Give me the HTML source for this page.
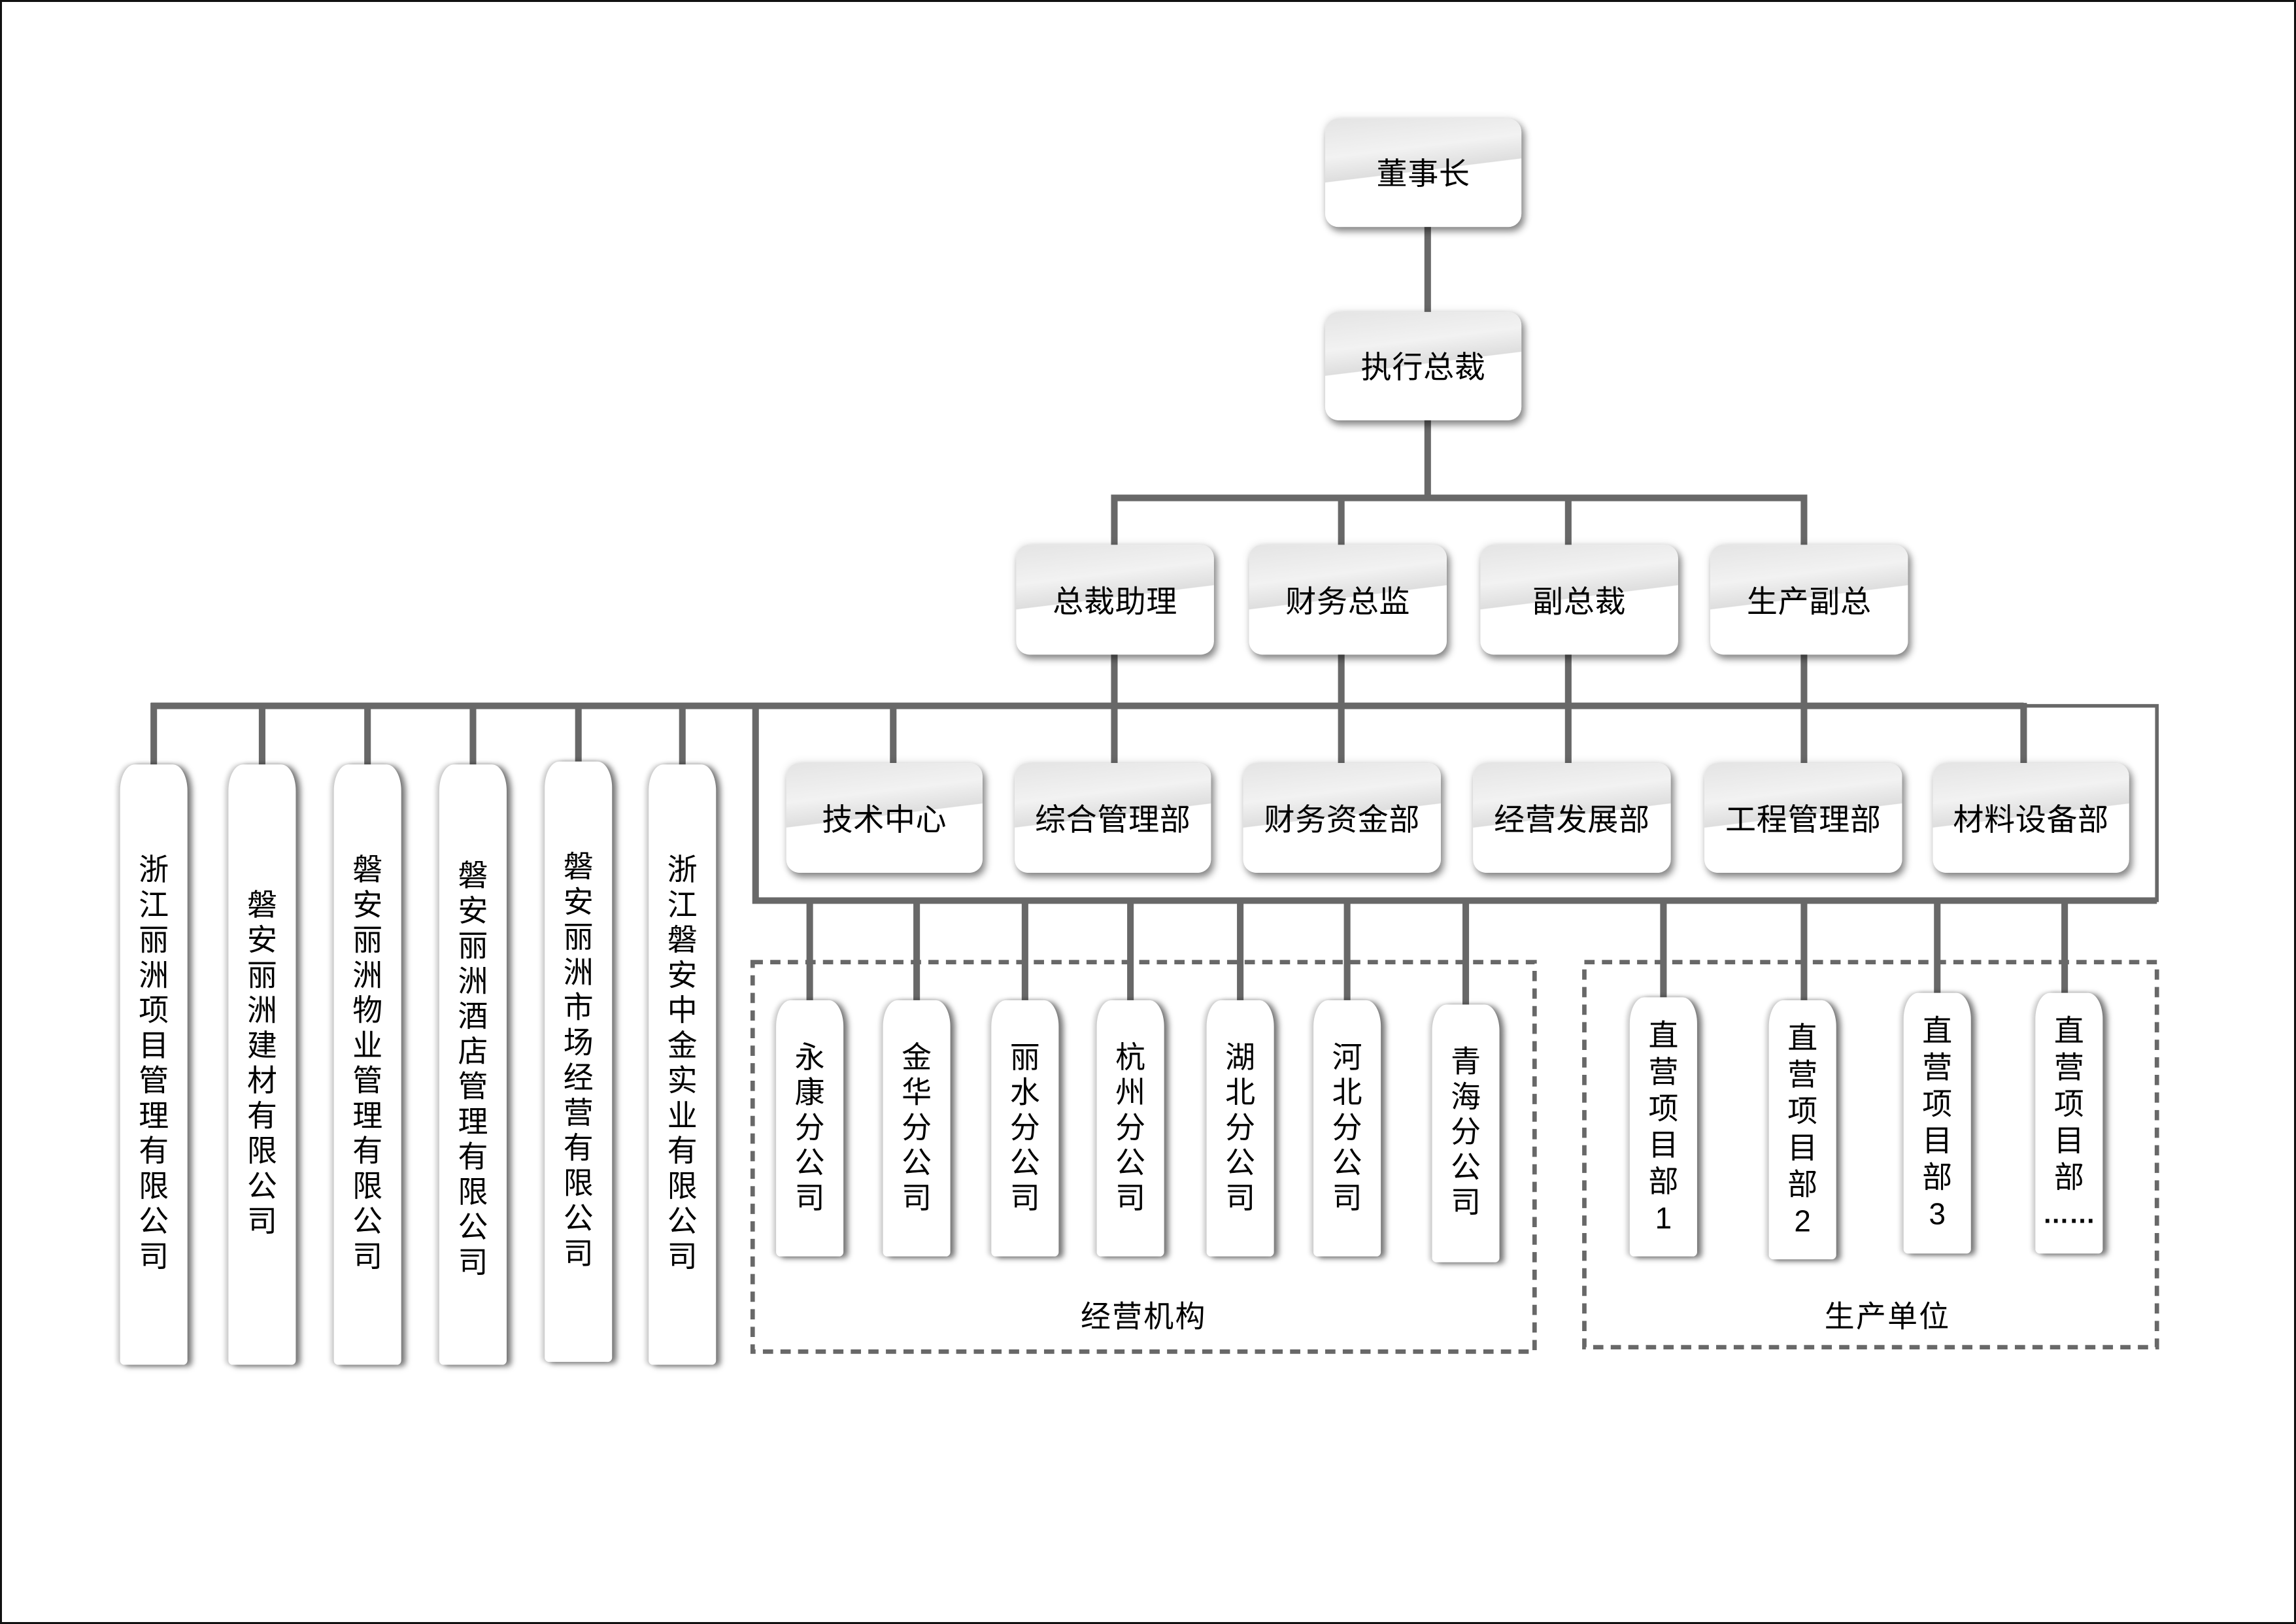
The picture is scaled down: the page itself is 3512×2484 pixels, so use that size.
<!DOCTYPE html>
<html><head><meta charset="utf-8">
<style>
html,body{margin:0;padding:0;background:#fff}
#page{position:relative;width:3512px;height:2484px;overflow:hidden;background:#fff}
#frame{position:absolute;left:0;top:0;width:3506px;height:2478px;border:3px solid #111}
#s{position:absolute;left:0;top:0;width:1568px;height:1109px;transform:scale(2.23980,2.23986);transform-origin:0 0;font-family:"Liberation Sans","Noto Sans CJK SC",sans-serif;color:#000}
.h{position:absolute;border-radius:9px;background:linear-gradient(173deg,#e4e4e4 0%,#f2f2f2 30%,#dedede 48%,#fff 48.5%,#fff 100%);box-shadow:2px 3px 5px rgba(0,0,0,.45),0 0 6px rgba(0,0,0,.12);display:flex;align-items:center;justify-content:center;font-size:21px;letter-spacing:0.3px}
.v{position:absolute;width:46px;border-radius:10px 10px 3px 3px/18px 18px 3px 3px;background:#fff;box-shadow:3px 1px 4px rgba(0,0,0,.55),-2px 0 3px rgba(0,0,0,.2);display:flex;flex-direction:column;align-items:center;justify-content:center;font-size:20.5px;line-height:24px}
.v span{display:block;text-align:center;width:30px}
.lbl{position:absolute;font-size:20.5px;transform:translate(-50%,-50%);white-space:nowrap;letter-spacing:1px}
</style></head><body>
<div id="page">
<div id="s">
<svg width="1568" height="1109" style="position:absolute;left:0;top:0">
<g stroke="#686868" stroke-width="4.5" fill="none" stroke-linecap="butt">
<line x1="975" y1="150" x2="975" y2="340"/>
<polyline points="761,375 761,340 1232,340 1232,375"/>
<line x1="916" y1="340" x2="916" y2="375"/>
<line x1="1071" y1="340" x2="1071" y2="375"/>
<line x1="761" y1="445" x2="761" y2="525"/>
<line x1="916" y1="445" x2="916" y2="525"/>
<line x1="1071" y1="445" x2="1071" y2="525"/>
<line x1="1232" y1="445" x2="1232" y2="525"/>
<line x1="103" y1="482" x2="1382" y2="482"/>
<polyline points="516,482 516,615 1473,615"/>
<line x1="105" y1="480" x2="105" y2="525"/>
<line x1="179" y1="482" x2="179" y2="525"/>
<line x1="251" y1="482" x2="251" y2="525"/>
<line x1="323" y1="482" x2="323" y2="525"/>
<line x1="395" y1="482" x2="395" y2="525"/>
<line x1="466" y1="482" x2="466" y2="525"/>
<line x1="610" y1="482" x2="610" y2="525"/>
<line x1="1382" y1="480" x2="1382" y2="525"/>
<line x1="553" y1="615" x2="553" y2="686"/>
<line x1="626" y1="615" x2="626" y2="686"/>
<line x1="700" y1="615" x2="700" y2="686"/>
<line x1="772" y1="615" x2="772" y2="686"/>
<line x1="847" y1="615" x2="847" y2="686"/>
<line x1="920" y1="615" x2="920" y2="686"/>
<line x1="1001" y1="615" x2="1001" y2="689"/>
<line x1="1136" y1="615" x2="1136" y2="683"/>
<line x1="1232" y1="615" x2="1232" y2="686"/>
<line x1="1323" y1="615" x2="1323" y2="681"/>
<line x1="1410" y1="615" x2="1410" y2="681"/>
</g>
<g stroke="#686868" stroke-width="2.5" fill="none">
<polyline points="1382,482 1473,482 1473,616"/>
</g>
<g stroke="#686868" stroke-width="3" fill="none" stroke-dasharray="7,5">
<rect x="514" y="657" width="534" height="266"/>
<rect x="1082" y="657" width="391" height="263"/>
</g>
</svg>

<div class="h" style="left:905px;top:81px;width:134px;height:74px">董事长</div>
<div class="h" style="left:905px;top:213px;width:134px;height:74px">执行总裁</div>
<div class="h" style="left:694px;top:372px;width:135px;height:75px">总裁助理</div>
<div class="h" style="left:853px;top:372px;width:135px;height:75px">财务总监</div>
<div class="h" style="left:1011px;top:372px;width:135px;height:75px">副总裁</div>
<div class="h" style="left:1168px;top:372px;width:135px;height:75px">生产副总</div>

<div class="h" style="left:537px;top:521px;width:134px;height:75px">技术中心</div>
<div class="h" style="left:693px;top:521px;width:134px;height:75px">综合管理部</div>
<div class="h" style="left:849px;top:521px;width:135px;height:75px">财务资金部</div>
<div class="h" style="left:1006px;top:521px;width:135px;height:75px">经营发展部</div>
<div class="h" style="left:1164px;top:521px;width:135px;height:75px">工程管理部</div>
<div class="h" style="left:1320px;top:521px;width:134px;height:75px">材料设备部</div>

<div class="v" style="left:82px;top:522px;height:410px"><span>浙</span><span>江</span><span>丽</span><span>洲</span><span>项</span><span>目</span><span>管</span><span>理</span><span>有</span><span>限</span><span>公</span><span>司</span></div>
<div class="v" style="left:156px;top:522px;height:410px"><span>磐</span><span>安</span><span>丽</span><span>洲</span><span>建</span><span>材</span><span>有</span><span>限</span><span>公</span><span>司</span></div>
<div class="v" style="left:228px;top:522px;height:410px"><span>磐</span><span>安</span><span>丽</span><span>洲</span><span>物</span><span>业</span><span>管</span><span>理</span><span>有</span><span>限</span><span>公</span><span>司</span></div>
<div class="v" style="left:300px;top:522px;height:410px;padding-top:8px;box-sizing:border-box"><span>磐</span><span>安</span><span>丽</span><span>洲</span><span>酒</span><span>店</span><span>管</span><span>理</span><span>有</span><span>限</span><span>公</span><span>司</span></div>
<div class="v" style="left:372px;top:520px;height:410px"><span>磐</span><span>安</span><span>丽</span><span>洲</span><span>市</span><span>场</span><span>经</span><span>营</span><span>有</span><span>限</span><span>公</span><span>司</span></div>
<div class="v" style="left:443px;top:522px;height:410px"><span>浙</span><span>江</span><span>磐</span><span>安</span><span>中</span><span>金</span><span>实</span><span>业</span><span>有</span><span>限</span><span>公</span><span>司</span></div>

<div class="v" style="left:530px;top:683px;height:175px"><span>永</span><span>康</span><span>分</span><span>公</span><span>司</span></div>
<div class="v" style="left:603px;top:683px;height:175px"><span>金</span><span>华</span><span>分</span><span>公</span><span>司</span></div>
<div class="v" style="left:677px;top:683px;height:175px"><span>丽</span><span>水</span><span>分</span><span>公</span><span>司</span></div>
<div class="v" style="left:749px;top:683px;height:175px"><span>杭</span><span>州</span><span>分</span><span>公</span><span>司</span></div>
<div class="v" style="left:824px;top:683px;height:175px"><span>湖</span><span>北</span><span>分</span><span>公</span><span>司</span></div>
<div class="v" style="left:897px;top:683px;height:175px"><span>河</span><span>北</span><span>分</span><span>公</span><span>司</span></div>
<div class="v" style="left:978px;top:686px;height:176px"><span>青</span><span>海</span><span>分</span><span>公</span><span>司</span></div>

<div class="v" style="left:1113px;top:681px;height:177px;line-height:25px"><span>直</span><span>营</span><span>项</span><span>目</span><span>部</span><span>1</span></div>
<div class="v" style="left:1208px;top:683px;height:177px;line-height:25px"><span>直</span><span>营</span><span>项</span><span>目</span><span>部</span><span>2</span></div>
<div class="v" style="left:1300px;top:678px;height:178px;line-height:25px"><span>直</span><span>营</span><span>项</span><span>目</span><span>部</span><span>3</span></div>
<div class="v" style="left:1390px;top:678px;height:178px;line-height:25px"><span>直</span><span>营</span><span>项</span><span>目</span><span>部</span><span style="font-size:18px;width:44px;font-weight:bold">……</span></div>

<div class="lbl" style="left:781px;top:897px">经营机构</div>
<div class="lbl" style="left:1289px;top:897px">生产单位</div>
</div>
<div id="frame"></div>
</div>
</body></html>
